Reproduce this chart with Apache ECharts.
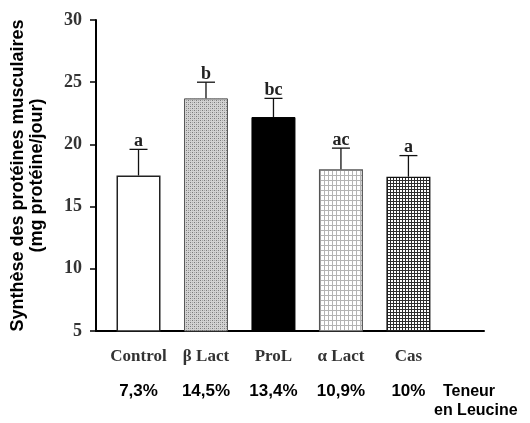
<!DOCTYPE html>
<html>
<head>
<meta charset="utf-8">
<script src="https://cdn.jsdelivr.net/npm/echarts@6/dist/echarts.min.js"></script>
<style>
  html, body { margin: 0; padding: 0; background: #fff; }
  #main { width: 530px; height: 423px; }
</style>
</head>
<body>
<div id="main"></div>
<script>
// données
var categories = ['Control', 'β Lact', 'ProL', 'α Lact', 'Cas'];
var leucine = ['7,3%', '14,5%', '13,4%', '10,9%', '10%'];
var means = [17.5, 23.7, 22.2, 18.0, 17.4];
var upper = [19.6, 25.0, 23.7, 19.7, 19.1];   // moyenne + erreur
var letters = ['a', 'b', 'bc', 'ac', 'a'];
var yTicks = [5, 10, 15, 20, 25, 30];

// motifs de remplissage des barres
function makePattern(w, h, draw) {
    var c = document.createElement('canvas');
    c.width = w; c.height = h;
    var ctx = c.getContext('2d');
    draw(ctx);
    return { image: c, repeat: 'repeat' };
}
var dotted = makePattern(4, 4, function (ctx) {
    ctx.fillStyle = '#d2d2d2'; ctx.fillRect(0, 0, 4, 4);
    ctx.fillStyle = '#7a7a7a'; ctx.fillRect(0, 0, 1, 1); ctx.fillRect(2, 2, 1, 1);
    ctx.fillStyle = '#a8a8a8'; ctx.fillRect(2, 0, 1, 1); ctx.fillRect(0, 2, 1, 1);
});
var lightGrid = makePattern(4, 5, function (ctx) {
    ctx.fillStyle = '#ffffff'; ctx.fillRect(0, 0, 4, 5);
    ctx.fillStyle = '#b4b4b4'; ctx.fillRect(0, 0, 1, 5); ctx.fillRect(0, 0, 4, 1);
});
var darkGrid = makePattern(3, 3, function (ctx) {
    ctx.fillStyle = '#ffffff'; ctx.fillRect(0, 0, 3, 3);
    ctx.fillStyle = '#2e2e2e'; ctx.fillRect(0, 0, 1, 3); ctx.fillRect(0, 0, 3, 1);
});

var barStyles = [
    { color: '#ffffff', borderColor: '#222', borderWidth: 1.5 },
    { color: dotted, borderColor: '#555', borderWidth: 1 },
    { color: '#000000', borderColor: '#000', borderWidth: 1 },
    { color: lightGrid, borderColor: '#555', borderWidth: 1.2 },
    { color: darkGrid, borderColor: '#111', borderWidth: 1.2 }
];

var chart = echarts.init(document.getElementById('main'));

var option = {
    animation: false,
    backgroundColor: '#fff',
    grid: { left: 96, right: 46, top: 20, bottom: 92, outerBoundsMode: 'none' },
    xAxis: {
        type: 'value',
        min: -0.63,
        max: 5.12,
        splitLine: { show: false },
        axisTick: { show: false },
        axisLine: { show: true, onZero: false, lineStyle: { color: '#000', width: 2 } },
        axisLabel: {
            customValues: [0, 1, 2, 3, 4],
            margin: 14,
            formatter: function (v) {
                var i = Math.round(v);
                return '{n|' + categories[i] + '}\n{p|' + leucine[i] + '}';
            },
            rich: {
                n: { fontFamily: 'Liberation Serif', fontWeight: 'bold', fontSize: 17, color: '#333', lineHeight: 24 },
                p: { fontFamily: 'Liberation Sans', fontWeight: 'bold', fontSize: 17, color: '#000', lineHeight: 44 }
            }
        },
        name: '  Teneur\nen Leucine',
        nameLocation: 'end',
        nameGap: -50,
        nameTextStyle: {
            fontFamily: 'Liberation Sans', fontWeight: 'bold', fontSize: 16, color: '#000',
            align: 'left', verticalAlign: 'top', lineHeight: 19, padding: [51, 0, 0, 0]
        }
    },
    yAxis: {
        type: 'value',
        min: yTicks[0],
        max: yTicks[yTicks.length - 1],
        interval: 5,
        splitLine: { show: false },
        axisLine: { show: true, onZero: false, lineStyle: { color: '#000', width: 2 } },
        axisTick: { show: true, length: 6, lineStyle: { color: '#000', width: 1.5 } },
        axisLabel: {
            margin: 14,
            fontFamily: 'Liberation Serif', fontWeight: 'bold', fontSize: 18, color: '#333'
        },
        name: 'Synthèse des protéines musculaires\n(mg protéine/jour)',
        nameLocation: 'middle',
        nameGap: 49,
        nameTextStyle: {
            fontFamily: 'Liberation Sans', fontWeight: 'bold', fontSize: 18, color: '#000', lineHeight: 19
        }
    },
    series: [
        {
            type: 'bar',
            barWidth: 44,
            data: means.map(function (v, i) {
                return { value: [i, v], itemStyle: barStyles[i] };
            })
        },
        {
            type: 'custom',
            z: 5,
            data: means.map(function (v, i) { return [i, v, upper[i]]; }),
            renderItem: function (params, api) {
                var i = api.value(0);
                var lo = api.coord([i, api.value(1)]);
                var hi = api.coord([i, api.value(2)]);
                var st = { stroke: '#111', lineWidth: 1.3 };
                return {
                    type: 'group',
                    children: [
                        { type: 'line', shape: { x1: lo[0], y1: lo[1], x2: hi[0], y2: hi[1] }, style: st },
                        { type: 'line', shape: { x1: hi[0] - 9, y1: hi[1], x2: hi[0] + 9, y2: hi[1] }, style: st },
                        {
                            type: 'text', x: hi[0], y: hi[1] + 1,
                            style: {
                                text: letters[params.dataIndex], fill: '#222',
                                font: 'bold 18px "Liberation Serif"',
                                align: 'center', verticalAlign: 'bottom'
                            }
                        }
                    ]
                };
            }
        }
    ]
};
chart.setOption(option);
</script>
</body>
</html>
